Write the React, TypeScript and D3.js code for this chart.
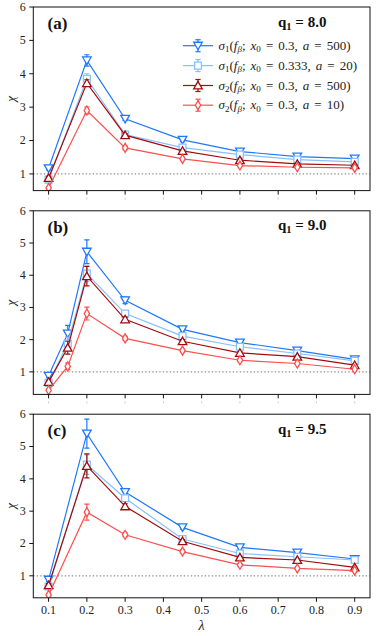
import React from "react";
import * as d3 from "d3";

// ---------- data ----------
const xTicks = [0.1, 0.2, 0.3, 0.4, 0.5, 0.6, 0.7, 0.8, 0.9];
const yTicks = [1, 2, 3, 4, 5, 6];

const seriesNames = ["s1a500", "s1a20", "s2a500", "s2a10"];
const seriesColors = ["#1f78ff", "#86c0ff", "#a00c0c", "#ff4f4f"];
const seriesMarkers = ["tridown", "square", "triup", "diamond"];
const legendSigma = ["1", "1", "2", "2"];
const legendX0 = ["0.3", "0.333", "0.3", "0.3"];
const legendA = ["500", "20", "500", "10"];

const panelLetters = ["(a)", "(b)", "(c)"];
const panelQ = ["8.0", "9.0", "9.5"];
const panelYMin = [0.5, 0.3, 0.32];

// panel (a)
const lambdaA = [0.1, 0.2, 0.3, 0.45, 0.6, 0.75, 0.9];
const aBlue = [1.17, 4.4, 2.65, 2.02, 1.67, 1.52, 1.46];
const aBlueErr = [0.05, 0.17, 0.05, 0.05, 0.04, 0.04, 0.04];
const aLight = [0.83, 3.85, 2.18, 1.79, 1.58, 1.43, 1.36];
const aLightErr = [0.04, 0.15, 0.05, 0.04, 0.03, 0.03, 0.03];
const aDark = [0.88, 3.72, 2.16, 1.69, 1.41, 1.3, 1.26];
const aDarkErr = [0.05, 0.1, 0.05, 0.04, 0.03, 0.03, 0.03];
const aRed = [0.58, 2.9, 1.78, 1.45, 1.25, 1.2, 1.18];
const aRedErr = [0.04, 0.1, 0.05, 0.04, 0.03, 0.03, 0.03];

// panel (b)
const lambdaB = [0.1, 0.15, 0.2, 0.3, 0.45, 0.6, 0.75, 0.9];
const bBlue = [0.88, 2.19, 4.73, 3.22, 2.32, 1.91, 1.66, 1.39];
const bBlueErr = [0.06, 0.25, 0.37, 0.1, 0.06, 0.05, 0.04, 0.03];
const bLight = [0.66, 1.88, 4.05, 2.81, 2.11, 1.78, 1.57, 1.34];
const bLightErr = [0.05, 0.2, 0.25, 0.08, 0.05, 0.04, 0.03, 0.03];
const bDark = [0.69, 1.75, 3.97, 2.63, 1.95, 1.59, 1.47, 1.21];
const bDarkErr = [0.05, 0.2, 0.3, 0.07, 0.05, 0.04, 0.03, 0.03];
const bRed = [0.43, 1.17, 2.81, 2.04, 1.66, 1.36, 1.26, 1.08];
const bRedErr = [0.04, 0.1, 0.2, 0.06, 0.05, 0.04, 0.03, 0.03];

// panel (c)
const lambdaC = [0.1, 0.2, 0.3, 0.45, 0.6, 0.75, 0.9];
const cBlue = [0.88, 5.4, 3.59, 2.5, 1.88, 1.72, 1.52];
const cBlueErr = [0.06, 0.45, 0.1, 0.06, 0.05, 0.04, 0.04];
const cLight = [0.67, 4.44, 3.4, 2.14, 1.69, 1.59, 1.49];
const cLightErr = [0.05, 0.3, 0.1, 0.05, 0.04, 0.04, 0.03];
const cDark = [0.71, 4.4, 3.15, 2.07, 1.57, 1.49, 1.26];
const cDarkErr = [0.05, 0.37, 0.08, 0.05, 0.04, 0.03, 0.03];
const cRed = [0.41, 2.97, 2.27, 1.75, 1.34, 1.23, 1.16];
const cRedErr = [0.04, 0.25, 0.06, 0.05, 0.04, 0.03, 0.03];

const panels = [
  { lambda: lambdaA, vals: [aBlue, aLight, aDark, aRed], errs: [aBlueErr, aLightErr, aDarkErr, aRedErr] },
  { lambda: lambdaB, vals: [bBlue, bLight, bDark, bRed], errs: [bBlueErr, bLightErr, bDarkErr, bRedErr] },
  { lambda: lambdaC, vals: [cBlue, cLight, cDark, cRed], errs: [cBlueErr, cLightErr, cDarkErr, cRedErr] },
];

// ---------- layout ----------
const W = 377;
const H = 636;
const LEFT = 33.3;
const RIGHT = 370;
const PANEL_TOPS = [7, 210.8, 414.2];
const PANEL_H = 183.6;
const SERIF = "'Liberation Serif', 'DejaVu Serif', serif";

function markerPath(kind: string, s: number): string {
  switch (kind) {
    case "tridown":
      return `M${-s},${-s * 0.8} L${s},${-s * 0.8} L0,${s * 0.95} Z`;
    case "triup":
      return `M${-s},${s * 0.8} L${s},${s * 0.8} L0,${-s * 0.95} Z`;
    case "square":
      return `M${-s * 0.8},${-s * 0.8} H${s * 0.8} V${s * 0.8} H${-s * 0.8} Z`;
    default:
      return `M0,${-s * 1.05} L${s * 0.62},0 L0,${s * 1.05} L${-s * 0.62},0 Z`;
  }
}

function Marker({ kind, color, x, y }: { kind: string; color: string; x: number; y: number }) {
  return (
    <path
      d={markerPath(kind, 4.3)}
      transform={`translate(${x},${y})`}
      fill="#fff"
      stroke={color}
      strokeWidth={1.3}
    />
  );
}

function Panel({ idx }: { idx: number }) {
  const top = PANEL_TOPS[idx];
  const bottom = top + PANEL_H;
  const x = d3.scaleLinear().domain([0.06, 0.94]).range([LEFT, RIGHT]);
  const y = d3.scaleLinear().domain([panelYMin[idx], 6]).range([bottom, top]);
  const p = panels[idx];
  const line = d3
    .line<number>()
    .x((_, i) => x(p.lambda[i]))
    .y((d) => y(d));
  const showX = idx === 2;
  return (
    <g>
      <defs>
        <clipPath id={`clip${idx}`}>
          <rect x={LEFT} y={top} width={RIGHT - LEFT} height={PANEL_H} />
        </clipPath>
      </defs>
      {/* reference line */}
      <line
        x1={LEFT}
        x2={RIGHT}
        y1={y(1)}
        y2={y(1)}
        stroke="#8a8a8a"
        strokeWidth={1.3}
        strokeDasharray="1.3,2.2"
      />
      <g clipPath={`url(#clip${idx})`}>
        {p.vals.map((vals, si) => {
          const color = seriesColors[si];
          return (
            <g key={seriesNames[si]}>
              <path d={line(vals) || ""} fill="none" stroke={color} strokeWidth={1.2} />
              {vals.map((v, i) => {
                const cx = x(p.lambda[i]);
                const e = p.errs[si][i];
                return (
                  <g key={i}>
                    <line x1={cx} x2={cx} y1={y(v - e)} y2={y(v + e)} stroke={color} strokeWidth={1.2} />
                    <line x1={cx - 2.6} x2={cx + 2.6} y1={y(v - e)} y2={y(v - e)} stroke={color} strokeWidth={1.2} />
                    <line x1={cx - 2.6} x2={cx + 2.6} y1={y(v + e)} y2={y(v + e)} stroke={color} strokeWidth={1.2} />
                    <Marker kind={seriesMarkers[si]} color={color} x={cx} y={y(v)} />
                  </g>
                );
              })}
            </g>
          );
        })}
      </g>
      {/* frame */}
      <rect x={LEFT} y={top} width={RIGHT - LEFT} height={PANEL_H} fill="none" stroke="#111" strokeWidth={1} />
      {/* y ticks */}
      {yTicks.map((t) => (
        <g key={t}>
          <line x1={LEFT - 4} x2={LEFT} y1={y(t)} y2={y(t)} stroke="#111" strokeWidth={1} />
          <text
            x={LEFT - 7.5}
            y={y(t)}
            dy="0.33em"
            textAnchor="end"
            fontFamily={SERIF}
            fontSize={12}
            fill="#222"
          >
            {t}
          </text>
        </g>
      ))}
      {/* x ticks */}
      {xTicks.map((t) => (
        <g key={t}>
          <line x1={x(t)} x2={x(t)} y1={bottom} y2={bottom + 4} stroke="#111" strokeWidth={1} />
          {showX ? (
            <text
              x={x(t)}
              y={bottom + 16}
              textAnchor="middle"
              fontFamily={SERIF}
              fontSize={12}
              fill="#222"
            >
              {t.toFixed(1)}
            </text>
          ) : (
            <line x1={x(t)} x2={x(t)} y1={bottom + 7} y2={bottom + 9} stroke="#ccc" strokeWidth={1} />
          )}
        </g>
      ))}
      {/* y label */}
      <text
        transform={`translate(${15},${(top + bottom) / 2}) rotate(-90)`}
        textAnchor="middle"
        fontFamily={SERIF}
        fontStyle="italic"
        fontSize={13}
        fill="#222"
      >
        χ
      </text>
      {/* panel letter */}
      <text x={47.5} y={top + 22} fontFamily={SERIF} fontWeight="bold" fontSize={17} fill="#111">
        {panelLetters[idx]}
      </text>
      {/* q label */}
      <text x={278} y={top + 19.5} fontFamily={SERIF} fontWeight="bold" fontSize={15} fill="#111">
        q
        <tspan fontSize={10.5} dy={3}>
          1
        </tspan>
        <tspan dy={-3}>{` = ${panelQ[idx]}`}</tspan>
      </text>
      {idx === 0 && <Legend />}
    </g>
  );
}

function Legend() {
  const rowY = [45.7, 65.6, 85.5, 105.2];
  const mx = 198;
  return (
    <g>
      {seriesNames.map((n, si) => {
        const color = seriesColors[si];
        const yy = rowY[si];
        return (
          <g key={n}>
            <line x1={183} x2={213} y1={yy} y2={yy} stroke={color} strokeWidth={1.2} />
            <line x1={mx} x2={mx} y1={yy - 6} y2={yy + 6} stroke={color} strokeWidth={1.2} />
            <line x1={mx - 2.6} x2={mx + 2.6} y1={yy - 6} y2={yy - 6} stroke={color} strokeWidth={1.2} />
            <line x1={mx - 2.6} x2={mx + 2.6} y1={yy + 6} y2={yy + 6} stroke={color} strokeWidth={1.2} />
            <Marker kind={seriesMarkers[si]} color={color} x={mx} y={yy} />
            <text
              x={218.5}
              y={yy + 4}
              fontFamily={SERIF}
              fontSize={13}
              wordSpacing={1.8}
              fill="#222"
            >
              <tspan fontStyle="italic">σ</tspan>
              <tspan fontSize={9} dy={2.5}>
                {legendSigma[si]}
              </tspan>
              <tspan dy={-2.5}>(</tspan>
              <tspan fontStyle="italic">f</tspan>
              <tspan fontStyle="italic" fontSize={9} dy={2.5}>
                β
              </tspan>
              <tspan dy={-2.5}>; </tspan>
              <tspan fontStyle="italic">x</tspan>
              <tspan fontSize={9} dy={2.5}>
                0
              </tspan>
              <tspan dy={-2.5}>{` = ${legendX0[si]}, `}</tspan>
              <tspan fontStyle="italic">a</tspan>
              <tspan>{` = ${legendA[si]})`}</tspan>
            </text>
          </g>
        );
      })}
    </g>
  );
}

export default function App() {
  return (
    <svg
      width={W}
      height={H}
      viewBox={`0 0 ${W} ${H}`}
      style={{ position: "absolute", left: 0, top: 0, background: "#fff" }}
    >
      <rect width={W} height={H} fill="#fff" />
      {[0, 1, 2].map((i) => (
        <Panel key={i} idx={i} />
      ))}
      <text
        x={(LEFT + RIGHT) / 2}
        y={630}
        textAnchor="middle"
        fontFamily={SERIF}
        fontStyle="italic"
        fontSize={14}
        fill="#222"
      >
        λ
      </text>
    </svg>
  );
}
